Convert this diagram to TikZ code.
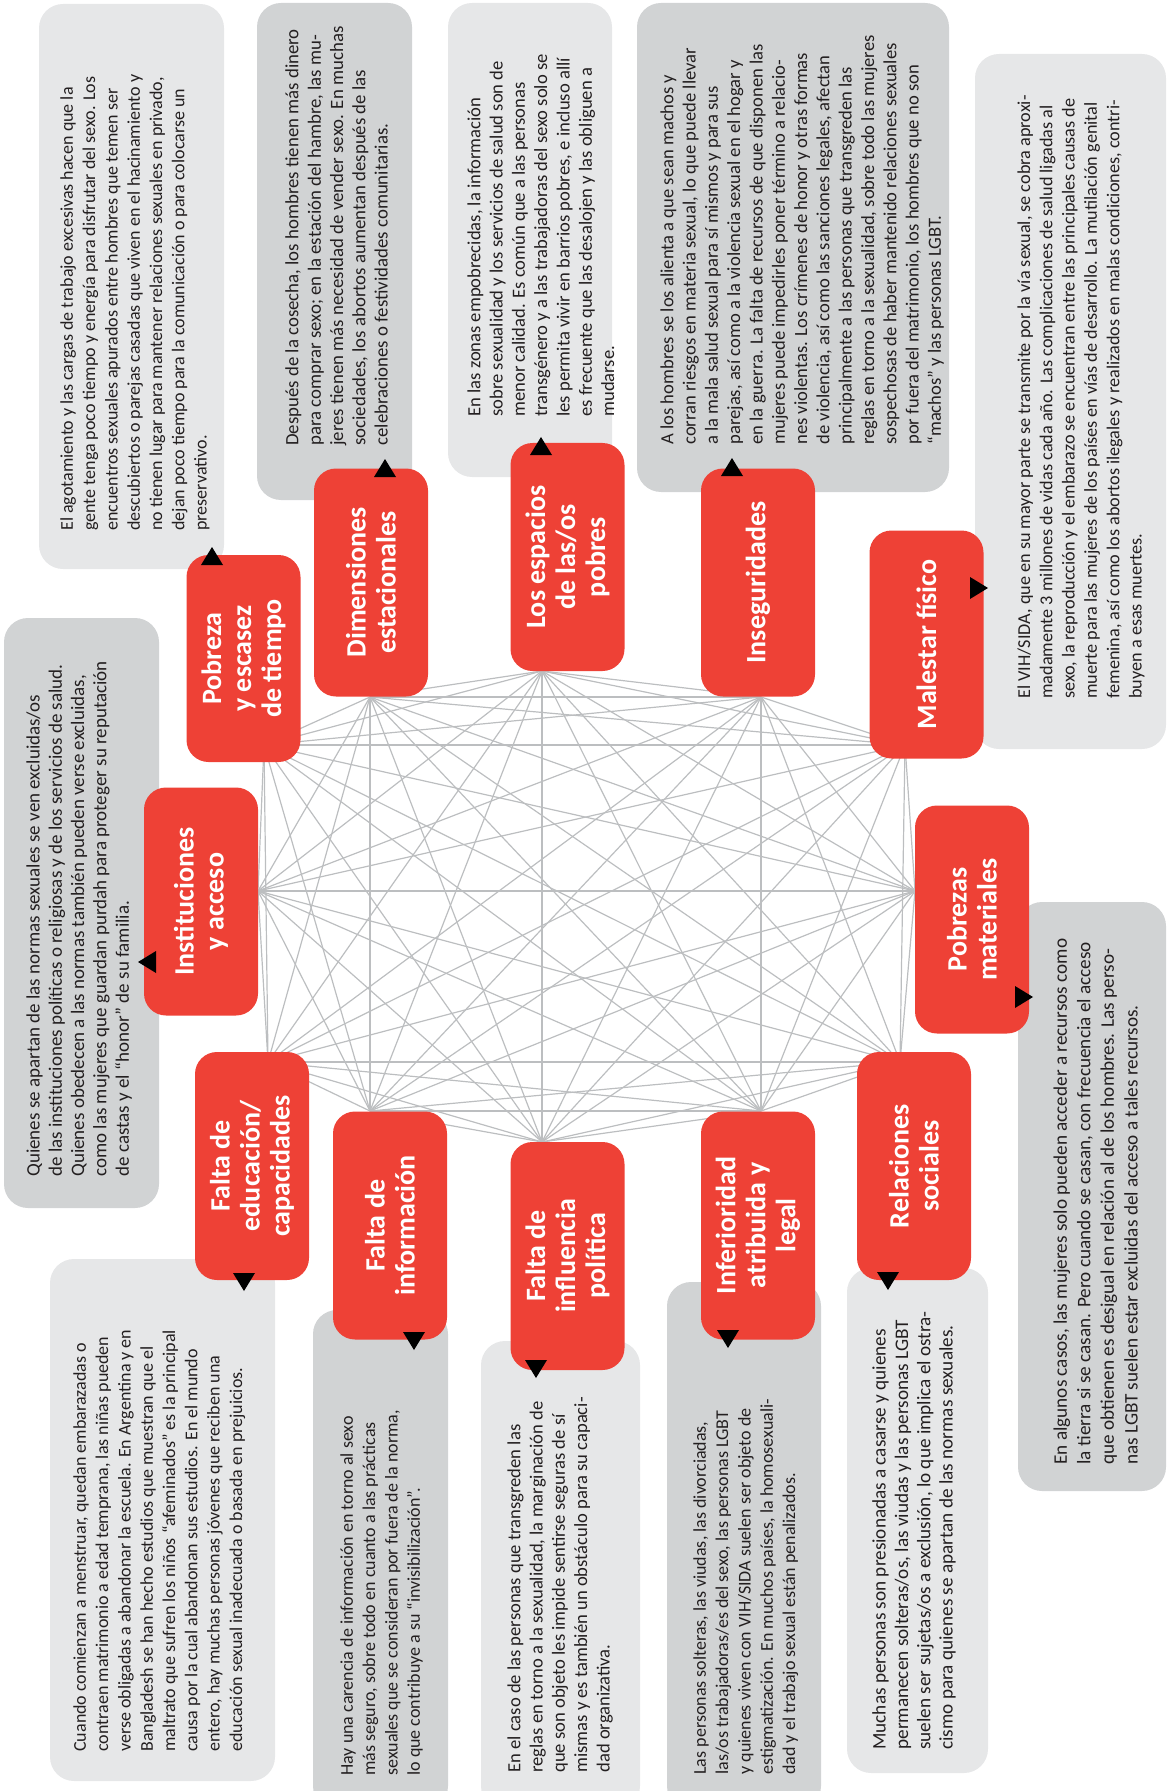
\documentclass[tikz,border=0pt]{standalone}
\usepackage{fontspec}
\setmainfont{Carlito}
\definecolor{factorred}{HTML}{EE4136}
\definecolor{notelight}{HTML}{E6E7E8}
\definecolor{notedark}{HTML}{D1D3D4}
\definecolor{linkgray}{HTML}{BCBEC0}
\definecolor{notetxt}{HTML}{231F20}

\begin{document}
\begin{tikzpicture}[x=0.5pt,y=-0.5pt,
  factor/.style={rotate=90,fill=factorred,text=white,rounded corners=11pt,inner sep=0pt,
    minimum width=114pt,minimum height=57pt,align=center,
    font=\bfseries\fontsize{14}{15}\selectfont},
  note/.style={rounded corners=12pt},
  notebody/.style={rotate=90,anchor=north west,inner sep=0pt,align=left,text=notetxt,
    font=\fontsize{#1}{11.15}\selectfont},
  notebody/.default=9,
  link/.style={linkgray,line width=0.6pt},
  pointer/.style={fill=black}]
\useasboundingbox (0,0) rectangle (1168,1791);

% text boxes
\fill[note,notelight] (39,4) rectangle (224,569);
\fill[note,notedark] (257,3) rectangle (412,500);
\fill[note,notelight] (448,3) rectangle (612,477);
\fill[note,notedark] (637,3) rectangle (949,492);
\fill[note,notelight] (975,54) rectangle (1166,749);
\fill[note,notedark] (4,618) rectangle (159,1208);
\fill[note,notedark] (1018,902) rectangle (1166,1491);
\fill[note,notelight] (50,1259) rectangle (275,1781);
\fill[note,notedark] (313,1310) rectangle (448,1810);
\fill[note,notelight] (481,1341) rectangle (640,1810);
\fill[note,notedark] (667,1282) rectangle (821,1810);
\fill[note,notelight] (847,1268) rectangle (988,1773);

\node[notebody] (tP) at (60,531) {El agotamiento y las cargas de trabajo excesivas hacen que la\\
gente tenga poco tiempo y energía para disfrutar del sexo. Los\\
encuentros sexuales apurados entre hombres que temen ser\\
descubiertos o parejas casadas que viven en el hacinamiento y\\
no tienen lugar para mantener relaciones sexuales en privado,\\
dejan poco tiempo para la comunicación o para colocarse un\\
preservativo.};
\node[notebody=9.4] (tD) at (285,446) {Después de la cosecha, los hombres tienen más dinero\\
para comprar sexo; en la estación del hambre, las mu-\\
jeres tienen más necesidad de vender sexo. En muchas\\
sociedades, los abortos aumentan después de las\\
celebraciones o festividades comunitarias.};
\node[notebody=9.3] (tE) at (467,417) {En las zonas empobrecidas, la información\\
sobre sexualidad y los servicios de salud son de\\
menor calidad. Es común que a las personas\\
transgénero y a las trabajadoras del sexo solo se\\
les permita vivir en barrios pobres, e incluso allí\\
es frecuente que las desalojen y las obliguen a\\
mudarse.};
\node[notebody=9.3] (tS) at (660,445) {A los hombres se los alienta a que sean machos y\\
corran riesgos en materia sexual, lo que puede llevar\\
a la mala salud sexual para sí mismos y para sus\\
parejas, así como a la violencia sexual en el hogar y\\
en la guerra. La falta de recursos de que disponen las\\
mujeres puede impedirles poner término a relacio-\\
nes violentas. Los crímenes de honor y otras formas\\
de violencia, así como las sanciones legales, afectan\\
principalmente a las personas que transgreden las\\
reglas en torno a la sexualidad, sobre todo las mujeres\\
sospechosas de haber mantenido relaciones sexuales\\
por fuera del matrimonio, los hombres que no son\\
“machos” y las personas LGBT.};
\node[notebody=9.1] (tM) at (1017,699) {El VIH/SIDA, que en su mayor parte se transmite por la vía sexual, se cobra aproxi-\\
madamente 3 millones de vidas cada año. Las complicaciones de salud ligadas al\\
sexo, la reproducción y el embarazo se encuentran entre las principales causas de\\
muerte para las mujeres de los países en vías de desarrollo. La mutilación genital\\
femenina, así como los abortos ilegales y realizados en malas condiciones, contri-\\
buyen a esas muertes.};
\node[notebody=9.5] (tIN) at (26,1177) {Quienes se apartan de las normas sexuales se ven excluidas/os\\
de las instituciones políticas o religiosas y de los servicios de salud.\\
Quienes obedecen a las normas también pueden verse excluidas,\\
como las mujeres que guardan purdah para proteger su reputación\\
de castas y el “honor” de su familia.};
\node[notebody,font=\fontsize{9.6}{11.8}\selectfont] (tPM) at (1053,1465) {En algunos casos, las mujeres solo pueden acceder a recursos como\\
la tierra si se casan. Pero cuando se casan, con frecuencia el acceso\\
que obtienen es desigual en relación al de los hombres. Las perso-\\
nas LGBT suelen estar excluidas del acceso a tales recursos.};
\node[notebody] (tFE) at (73,1752) {Cuando comienzan a menstruar, quedan embarazadas o\\
contraen matrimonio a edad temprana, las niñas pueden\\
verse obligadas a abandonar la escuela. En Argentina y en\\
Bangladesh se han hecho estudios que muestran que el\\
maltrato que sufren los niños “afeminados” es la principal\\
causa por la cual abandonan sus estudios. En el mundo\\
entero, hay muchas personas jóvenes que reciben una\\
educación sexual inadecuada o basada en prejuicios.};
\node[notebody] (tFN) at (340,1776) {Hay una carencia de información en torno al sexo\\
más seguro, sobre todo en cuanto a las prácticas\\
sexuales que se consideran por fuera de la norma,\\
lo que contribuye a su “invisibilización”.};
\node[notebody=9.3] (tFI) at (507,1773) {En el caso de las personas que transgreden las\\
reglas en torno a la sexualidad, la marginación de\\
que son objeto les impide sentirse seguras de sí\\
mismas y es también un obstáculo para su capaci-\\
dad organizativa.};
\node[notebody] (tIA) at (693,1775) {Las personas solteras, las viudas, las divorciadas,\\
las/os trabajadoras/es del sexo, las personas LGBT\\
y quienes viven con VIH/SIDA suelen ser objeto de\\
estigmatización. En muchos países, la homosexuali-\\
dad y el trabajo sexual están penalizados.};
\node[notebody=9.6] (tRS) at (872,1750) {Muchas personas son presionadas a casarse y quienes\\
permanecen solteras/os, las viudas y las personas LGBT\\
suelen ser sujetas/os a exclusión, lo que implica el ostra-\\
cismo para quienes se apartan de las normas sexuales.};

% hubs of the network
\coordinate (hP) at (264,745);
\coordinate (hD) at (370,697);
\coordinate (hE) at (542,671);
\coordinate (hS) at (761,697);
\coordinate (hM) at (905,745);
\coordinate (hPM) at (915,891);
\coordinate (hRS) at (900,1062);
\coordinate (hIA) at (761,1111);
\coordinate (hFI) at (542,1142);
\coordinate (hFN) at (370,1111);
\coordinate (hFE) at (268,1062);
\coordinate (hIN) at (258,891);

\foreach \a [count=\i] in {P,D,E,S,M,PM,RS,IA,FI,FN,FE,IN}
  \foreach \b [count=\j] in {P,D,E,S,M,PM,RS,IA,FI,FN,FE,IN}
    {\ifnum\j>\i \draw[link] (h\a) -- (h\b);\fi}

% factors
\node[factor,minimum width=103.5pt] (P) at (243.5,658.5) {Pobreza\\y escasez\\de tiempo};
\node[factor] (D) at (371,582.5) {Dimensiones\\estacionales};
\node[factor] (E) at (567.5,557) {Los espacios\\de las/os\\pobres};
\node[factor] (S) at (758,582.5) {Inseguridades};
\node[factor] (M) at (926.5,644.5) {Malestar físico};
\node[factor] (PM) at (972,919.5) {Pobrezas\\materiales};
\node[factor] (RS) at (914,1166) {Relaciones\\sociales};
\node[factor] (IA) at (758,1225.5) {Inferioridad\\atribuida y\\legal};
\node[factor] (FI) at (567.5,1256) {Falta de\\influencia\\política};
\node[factor] (FN) at (390,1225.5) {Falta de\\información};
\node[factor] (FE) at (252,1166) {Falta de\\educación/\\capacidades};
\node[factor] (IN) at (201,901.5) {Instituciones\\y acceso};

% pointers
\fill[pointer] (212,547) -- ++(-11,18) -- ++(22,0) -- cycle;
\fill[pointer] (385,459) -- ++(-11,18) -- ++(22,0) -- cycle;
\fill[pointer] (541,437) -- ++(-11,18) -- ++(22,0) -- cycle;
\fill[pointer] (732,458) -- ++(-11,18) -- ++(22,0) -- cycle;
\fill[pointer] (988,588) -- ++(-18,-11) -- ++(0,22) -- cycle;
\fill[pointer] (1033,997) -- ++(-18,-11) -- ++(0,22) -- cycle;
\fill[pointer] (888,1290) -- ++(-11,-18) -- ++(22,0) -- cycle;
\fill[pointer] (728,1348) -- ++(-11,-18) -- ++(22,0) -- cycle;
\fill[pointer] (536,1378) -- ++(-11,-18) -- ++(22,0) -- cycle;
\fill[pointer] (414,1350) -- ++(-11,-18) -- ++(22,0) -- cycle;
\fill[pointer] (244,1291) -- ++(-11,-18) -- ++(22,0) -- cycle;
\fill[pointer] (138,962) -- ++(18,-11) -- ++(0,22) -- cycle;
\end{tikzpicture}
\end{document}
